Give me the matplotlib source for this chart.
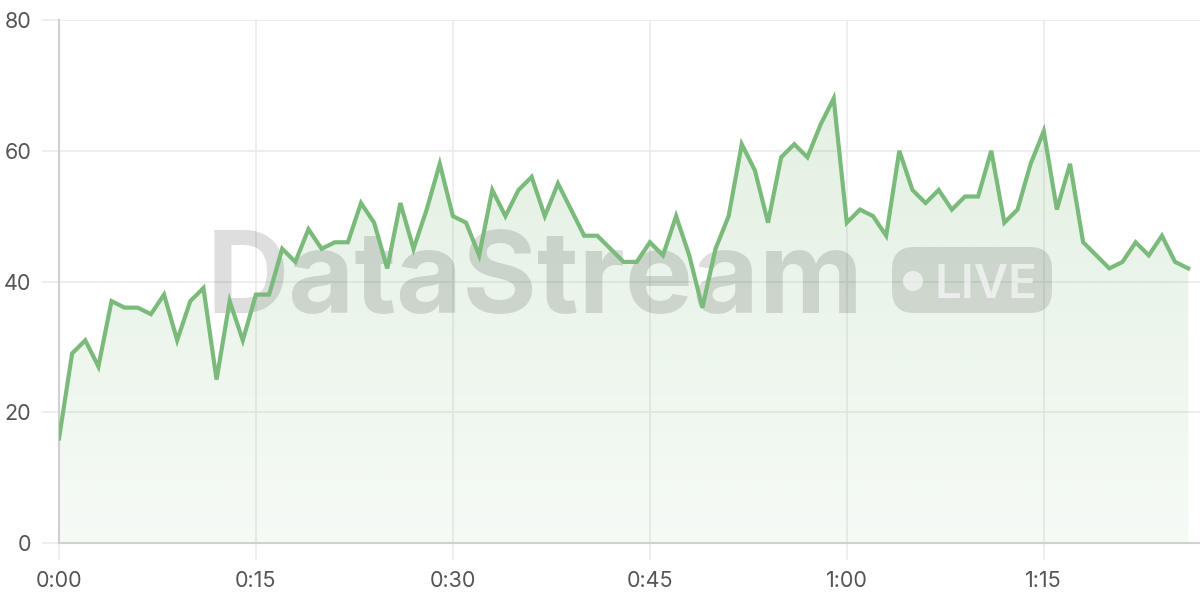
import numpy as np
import matplotlib.pyplot as plt
from matplotlib.patches import FancyBboxPatch, Circle
from matplotlib.transforms import IdentityTransform

# values, one per minute
minutes = list(range(87))
values = [16, 29, 31, 27, 37, 36, 36, 35, 38, 31,
          37, 39, 25, 37, 31, 38, 38, 45, 43, 48,
          45, 46, 46, 52, 49, 42, 52, 45, 51, 58,
          50, 49, 44, 54, 50, 54, 56, 50, 55, 51,
          47, 47, 45, 43, 43, 46, 44, 50, 44, 36,
          45, 50, 61, 57, 49, 59, 61, 59, 64, 68,
          49, 51, 50, 47, 60, 54, 52, 54, 51, 53,
          53, 60, 49, 51, 58, 63, 51, 58, 46, 44,
          42, 43, 46, 44, 47, 43, 42]
x_ticks = [0, 15, 30, 45, 60, 75]
x_labels = ["0:00", "0:15", "0:30", "0:45", "1:00", "1:15"]
y_ticks = [0, 20, 40, 60, 80]

line_color = "#7aba7a"
text_color = "#555555"
grid_color = "#ebebeb"

plt.rcParams['font.family'] = ['Inter', 'DejaVu Sans']

fig = plt.figure(figsize=(12, 6), dpi=100)
ax = fig.add_axes([59 / 1200, 57 / 600, 1 - 59 / 1200, 523 / 600])
ax.set_xlim(0, 86.9)
ax.set_ylim(0, 80)

# gradient fill under the line
fill = ax.fill_between(minutes, values, 0, color="none")
grad = np.linspace(0.24, 0.07, 256).reshape(-1, 1)
rgba = np.zeros((256, 1, 4))
rgba[..., 0] = 0x7a / 255
rgba[..., 1] = 0xba / 255
rgba[..., 2] = 0x7a / 255
rgba[..., 3] = grad
img = ax.imshow(rgba, extent=[0, 86, 0, 80], origin="upper",
                aspect="auto", zorder=1)
img.set_clip_path(fill.get_paths()[0], transform=ax.transData)

ax.plot(minutes, values, color=line_color, lw=3, zorder=4,
        solid_joinstyle="miter")

# watermark, kept inside the axes so the line draws over it
ax.text(206 / 1200, 1 - 313 / 600, "DataStream", transform=fig.transFigure,
        fontsize=82, fontweight="bold", color="black", alpha=0.13,
        ha="left", va="baseline", zorder=3)
ax.add_patch(FancyBboxPatch((892, 287), 160, 66, transform=IdentityTransform(),
                            boxstyle="round,pad=0,rounding_size=22",
                            facecolor="black", alpha=0.12, edgecolor="none",
                            zorder=3))
ax.add_patch(Circle((913, 319), 10, transform=IdentityTransform(),
                    facecolor="white", alpha=0.6, zorder=3))
ax.text(986 / 1200, 1 - 298 / 600, "LIVE", transform=fig.transFigure,
        fontsize=34, fontweight="semibold", color="white", alpha=0.6,
        ha="center", va="baseline", zorder=3)

ax.set_xticks(x_ticks)
ax.set_xticklabels(x_labels)
ax.set_yticks(y_ticks)
ax.grid(True, color=grid_color, lw=1.2, zorder=0)
ax.set_axisbelow(True)
ax.tick_params(axis="both", length=12, width=1.2, color=grid_color,
               labelcolor=text_color, labelsize=15.5, pad=8)
for side in ["top", "right"]:
    ax.spines[side].set_visible(False)
for side in ["left", "bottom"]:
    ax.spines[side].set_color("#d0d0d0")
    ax.spines[side].set_linewidth(1.5)

fig.savefig("out.png", dpi=100)
